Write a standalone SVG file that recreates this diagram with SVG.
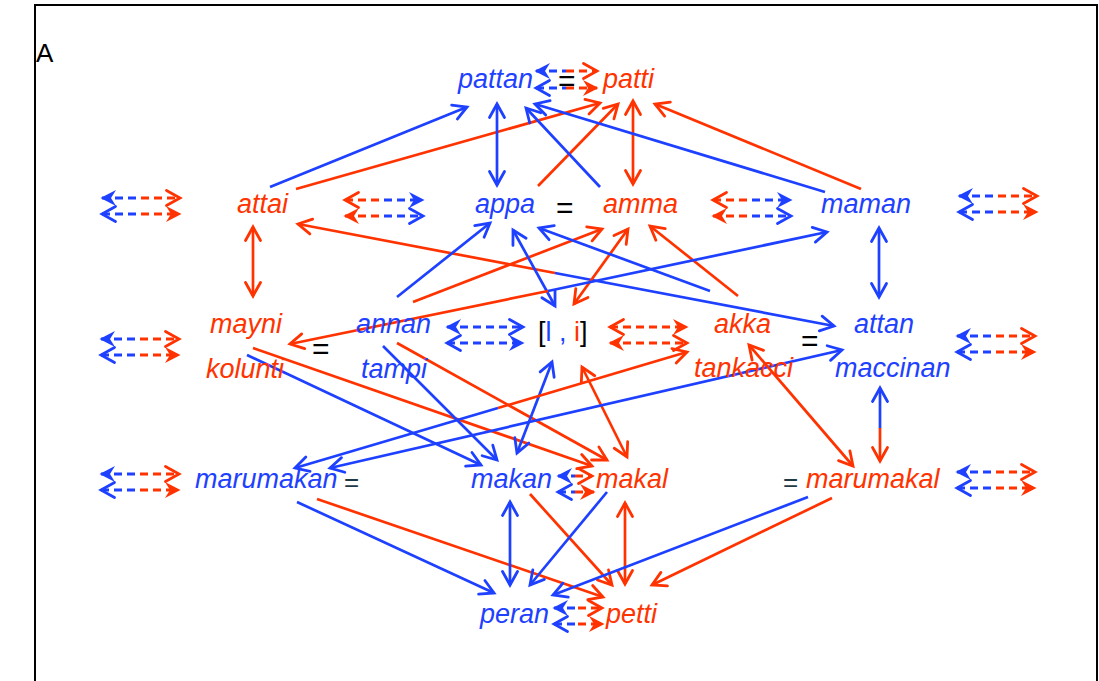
<svg xmlns="http://www.w3.org/2000/svg" xmlns:xlink="http://www.w3.org/1999/xlink" width="1099" height="681" viewBox="0 0 1099 681">
<style>
.t{font-family:"Liberation Sans",Arial,Helvetica,sans-serif;font-size:27px;font-style:italic}
.u{font-family:"Liberation Sans",Arial,Helvetica,sans-serif;font-style:normal}
.fb{fill:#1e40ff}.fr{fill:#ff3300}.fk{fill:#000}.fd{fill:#1f3a44}
.cb{stroke:#1e40ff;stroke-width:2.7;fill:none}
.cr{stroke:#ff3300;stroke-width:2.7;fill:none}
.db{stroke:#1e40ff;stroke-width:2.8;fill:none;stroke-dasharray:8 5}
.dr{stroke:#ff3300;stroke-width:2.8;fill:none;stroke-dasharray:8 5}
</style>
<defs>
<marker id="ob" viewBox="-16 -10 20 20" refX="0" refY="0" markerWidth="20" markerHeight="20" markerUnits="userSpaceOnUse" orient="auto-start-reverse" overflow="visible"><path d="M-13.5,-7.5 L0,0 L-13.5,7.5" fill="none" stroke="#1e40ff" stroke-width="2.8" stroke-linecap="round"/></marker>
<marker id="or" viewBox="-16 -10 20 20" refX="0" refY="0" markerWidth="20" markerHeight="20" markerUnits="userSpaceOnUse" orient="auto-start-reverse" overflow="visible"><path d="M-13.5,-7.5 L0,0 L-13.5,7.5" fill="none" stroke="#ff3300" stroke-width="2.8" stroke-linecap="round"/></marker>
<marker id="fbm" viewBox="-16 -10 20 20" refX="0" refY="0" markerWidth="20" markerHeight="20" markerUnits="userSpaceOnUse" orient="auto-start-reverse" overflow="visible"><path d="M1.5,0 L-14,-8 L-9,0 L-14,8 Z" fill="#1e40ff"/></marker>
<marker id="frm" viewBox="-16 -10 20 20" refX="0" refY="0" markerWidth="20" markerHeight="20" markerUnits="userSpaceOnUse" orient="auto-start-reverse" overflow="visible"><path d="M1.5,0 L-14,-8 L-9,0 L-14,8 Z" fill="#ff3300"/></marker>
<g id="pBR">
<line x1="0" y1="0" x2="39" y2="0" class="db" marker-start="url(#fbm)"/>
<line x1="39" y1="0" x2="78" y2="0" class="dr" marker-end="url(#or)"/>
<line x1="0" y1="16" x2="39" y2="16" class="db" marker-start="url(#ob)"/>
<line x1="39" y1="16" x2="78" y2="16" class="dr" marker-end="url(#frm)"/>
</g>
<g id="pRB">
<line x1="0" y1="0" x2="39" y2="0" class="dr" marker-start="url(#or)"/>
<line x1="39" y1="0" x2="78" y2="0" class="db" marker-end="url(#fbm)"/>
<line x1="0" y1="16" x2="39" y2="16" class="dr" marker-start="url(#frm)"/>
<line x1="39" y1="16" x2="78" y2="16" class="db" marker-end="url(#ob)"/>
</g>
<g id="pBB">
<line x1="0" y1="0" x2="76" y2="0" class="db" marker-start="url(#fbm)" marker-end="url(#ob)"/>
<line x1="0" y1="16" x2="76" y2="16" class="db" marker-start="url(#ob)" marker-end="url(#fbm)"/>
</g>
<g id="pRR">
<line x1="0" y1="0" x2="77" y2="0" class="dr" marker-start="url(#or)" marker-end="url(#frm)"/>
<line x1="0" y1="16" x2="77" y2="16" class="dr" marker-start="url(#frm)" marker-end="url(#or)"/>
</g>
</defs>
<rect width="1099" height="681" fill="#fff"/>
<g id="frame">
<rect x="35" y="5" width="1062" height="700" fill="none" stroke="#000" stroke-width="2"/>
<text x="36" y="62" class="u" font-size="26" fill="#000">A</text>
</g>
<g id="connectors">
<line x1="270" y1="187" x2="467" y2="107" class="cb" marker-end="url(#ob)"/>
<line x1="296" y1="189" x2="600" y2="103" class="cr" marker-end="url(#or)"/>
<line x1="497" y1="104" x2="497" y2="185" class="cb" marker-start="url(#ob)" marker-end="url(#ob)"/>
<line x1="538" y1="186" x2="618" y2="104" class="cr" marker-end="url(#or)"/>
<line x1="600" y1="187" x2="526" y2="108" class="cb" marker-end="url(#ob)"/>
<line x1="633" y1="101" x2="633" y2="184" class="cr" marker-start="url(#or)" marker-end="url(#or)"/>
<line x1="825" y1="192" x2="535" y2="104" class="cb" marker-end="url(#ob)"/>
<line x1="861" y1="189" x2="655" y2="104" class="cr" marker-end="url(#or)"/>
<line x1="253" y1="227" x2="253" y2="296" class="cr" marker-start="url(#or)" marker-end="url(#or)"/>
<line x1="555" y1="273" x2="298" y2="224" class="cr" marker-end="url(#or)"/>
<line x1="555" y1="273" x2="834" y2="326" class="cb" marker-end="url(#ob)"/>
<line x1="397" y1="297" x2="490" y2="223" class="cb" marker-end="url(#ob)"/>
<line x1="413" y1="302" x2="602" y2="229" class="cr" marker-end="url(#or)"/>
<line x1="574" y1="304" x2="628" y2="229" class="cr" marker-start="url(#or)" marker-end="url(#or)"/>
<line x1="738" y1="296" x2="650" y2="226" class="cr" marker-end="url(#or)"/>
<line x1="513" y1="230" x2="555" y2="306" class="cb" marker-start="url(#ob)" marker-end="url(#ob)"/>
<line x1="710" y1="291" x2="539" y2="228" class="cb" marker-end="url(#ob)"/>
<line x1="548" y1="291" x2="290" y2="344" class="cr" marker-end="url(#or)"/>
<line x1="548" y1="291" x2="827" y2="232" class="cb" marker-end="url(#ob)"/>
<line x1="879" y1="228" x2="879" y2="297" class="cb" marker-start="url(#ob)" marker-end="url(#ob)"/>
<line x1="247" y1="355" x2="481" y2="465" class="cb" marker-end="url(#ob)"/>
<line x1="253" y1="348" x2="592" y2="466" class="cr" marker-end="url(#or)"/>
<line x1="383" y1="346" x2="497" y2="460" class="cb" marker-end="url(#ob)"/>
<line x1="397" y1="343" x2="607" y2="460" class="cr" marker-end="url(#or)"/>
<line x1="552" y1="362" x2="517" y2="453" class="cb" marker-start="url(#ob)" marker-end="url(#ob)"/>
<line x1="582" y1="367" x2="627" y2="457" class="cr" marker-start="url(#or)" marker-end="url(#or)"/>
<line x1="498" y1="408" x2="295" y2="468" class="cb" marker-end="url(#ob)"/>
<line x1="498" y1="408" x2="687" y2="352" class="cr" marker-end="url(#or)"/>
<line x1="330" y1="468" x2="842" y2="350" class="cb" marker-start="url(#ob)" marker-end="url(#ob)"/>
<line x1="749" y1="345" x2="853" y2="466" class="cr" marker-start="url(#or)" marker-end="url(#or)"/>
<line x1="880" y1="428" x2="880" y2="388" class="cb" marker-end="url(#ob)"/>
<line x1="880" y1="428" x2="880" y2="461" class="cr" marker-end="url(#or)"/>
<line x1="297" y1="502" x2="494" y2="593" class="cb" marker-end="url(#ob)"/>
<line x1="317" y1="499" x2="603" y2="597" class="cr" marker-end="url(#or)"/>
<line x1="510" y1="502" x2="510" y2="585" class="cb" marker-start="url(#ob)" marker-end="url(#ob)"/>
<line x1="530" y1="494" x2="612" y2="585" class="cr" marker-end="url(#or)"/>
<line x1="607" y1="492" x2="530" y2="585" class="cb" marker-end="url(#ob)"/>
<line x1="625" y1="503" x2="625" y2="584" class="cr" marker-start="url(#or)" marker-end="url(#or)"/>
<line x1="808" y1="497" x2="553" y2="595" class="cb" marker-end="url(#ob)"/>
<line x1="832" y1="498" x2="652" y2="585" class="cr" marker-end="url(#or)"/>
<g id="equivalences">
<line x1="536" y1="71" x2="566" y2="71" class="db" marker-start="url(#fbm)"/>
<line x1="566" y1="71" x2="597" y2="71" class="dr" marker-end="url(#or)"/>
<line x1="536" y1="88" x2="566" y2="88" class="db" marker-start="url(#ob)"/>
<line x1="566" y1="88" x2="597" y2="88" class="dr" marker-end="url(#frm)"/>
<use xlink:href="#pBR" href="#pBR" x="102" y="198"/>
<use xlink:href="#pRB" href="#pRB" x="345" y="200"/>
<use xlink:href="#pRB" href="#pRB" x="713" y="200"/>
<use xlink:href="#pBR" href="#pBR" x="959" y="196"/>
<use xlink:href="#pBR" href="#pBR" x="101" y="339"/>
<use xlink:href="#pBB" href="#pBB" x="447" y="327"/>
<use xlink:href="#pRR" href="#pRR" x="610" y="327"/>
<use xlink:href="#pBR" href="#pBR" x="957" y="336"/>
<use xlink:href="#pBR" href="#pBR" x="101" y="474"/>
<use xlink:href="#pBR" href="#pBR" x="957" y="472"/>
<line x1="558" y1="476" x2="575" y2="476" class="db" marker-start="url(#fbm)"/>
<line x1="575" y1="476" x2="592" y2="476" class="dr" marker-end="url(#or)"/>
<line x1="558" y1="492" x2="575" y2="492" class="db" marker-start="url(#ob)"/>
<line x1="575" y1="492" x2="594" y2="492" class="dr" marker-end="url(#frm)"/>
<line x1="554" y1="608" x2="578" y2="608" class="db" marker-start="url(#fbm)"/>
<line x1="578" y1="608" x2="602" y2="608" class="dr" marker-end="url(#or)"/>
<line x1="554" y1="624" x2="578" y2="624" class="db" marker-start="url(#ob)"/>
<line x1="578" y1="624" x2="603" y2="624" class="dr" marker-end="url(#frm)"/>
</g>
</g>
<g id="n-pattan"><text x="458" y="88" class="t fb">pattan</text></g>
<g id="eq-1"><text x="558" y="91" class="u fk" font-size="30">=</text></g>
<g id="n-patti"><text x="603" y="88" class="t fr">patti</text></g>
<g id="n-attai"><text x="237" y="213" class="t fr">attai</text></g>
<g id="n-appa"><text x="475" y="213" class="t fb">appa</text></g>
<g id="eq-2"><text x="556" y="218" class="u fk" font-size="30">=</text></g>
<g id="n-amma"><text x="603" y="213" class="t fr">amma</text></g>
<g id="n-maman"><text x="821" y="213" class="t fb">maman</text></g>
<g id="n-mayni"><text x="210" y="333" class="t fr">mayni</text></g>
<g id="n-kolunti"><text x="206" y="378" class="t fr">kolunti</text></g>
<g id="eq-3"><text x="312" y="359" class="u fk" font-size="30">=</text></g>
<g id="n-annan"><text x="356" y="333" class="t fb">annan</text></g>
<g id="n-tampi"><text x="361" y="378" class="t fb">tampi</text></g>
<g id="n-li"><text x="538" y="341" class="u" font-size="27"><tspan class="fk">[</tspan><tspan class="fb">l , </tspan><tspan class="fr">i</tspan><tspan class="fk">]</tspan></text></g>
<g id="n-akka"><text x="714" y="333" class="t fr">akka</text></g>
<g id="n-tankacci"><text x="694" y="377" class="t fr">tankacci</text></g>
<g id="eq-4"><text x="801" y="351" class="u fk" font-size="30">=</text></g>
<g id="n-attan"><text x="854" y="333" class="t fb">attan</text></g>
<g id="n-maccinan"><text x="835" y="377" class="t fb">maccinan</text></g>
<g id="n-marumakan"><text x="195" y="488" class="t fb">marumakan</text><text x="344" y="491" class="u fd" font-size="26">=</text></g>
<g id="n-makan"><text x="471" y="488" class="t fb">makan</text></g>
<g id="n-makal"><text x="596" y="488" class="t fr">makal</text></g>
<g id="n-marumakal"><text x="783" y="491" class="u fd" font-size="26">=</text><text x="806" y="488" class="t fr">marumakal</text></g>
<g id="n-peran"><text x="480" y="623" class="t fb">peran</text></g>
<g id="n-petti"><text x="606" y="623" class="t fr">petti</text></g>
</svg>
